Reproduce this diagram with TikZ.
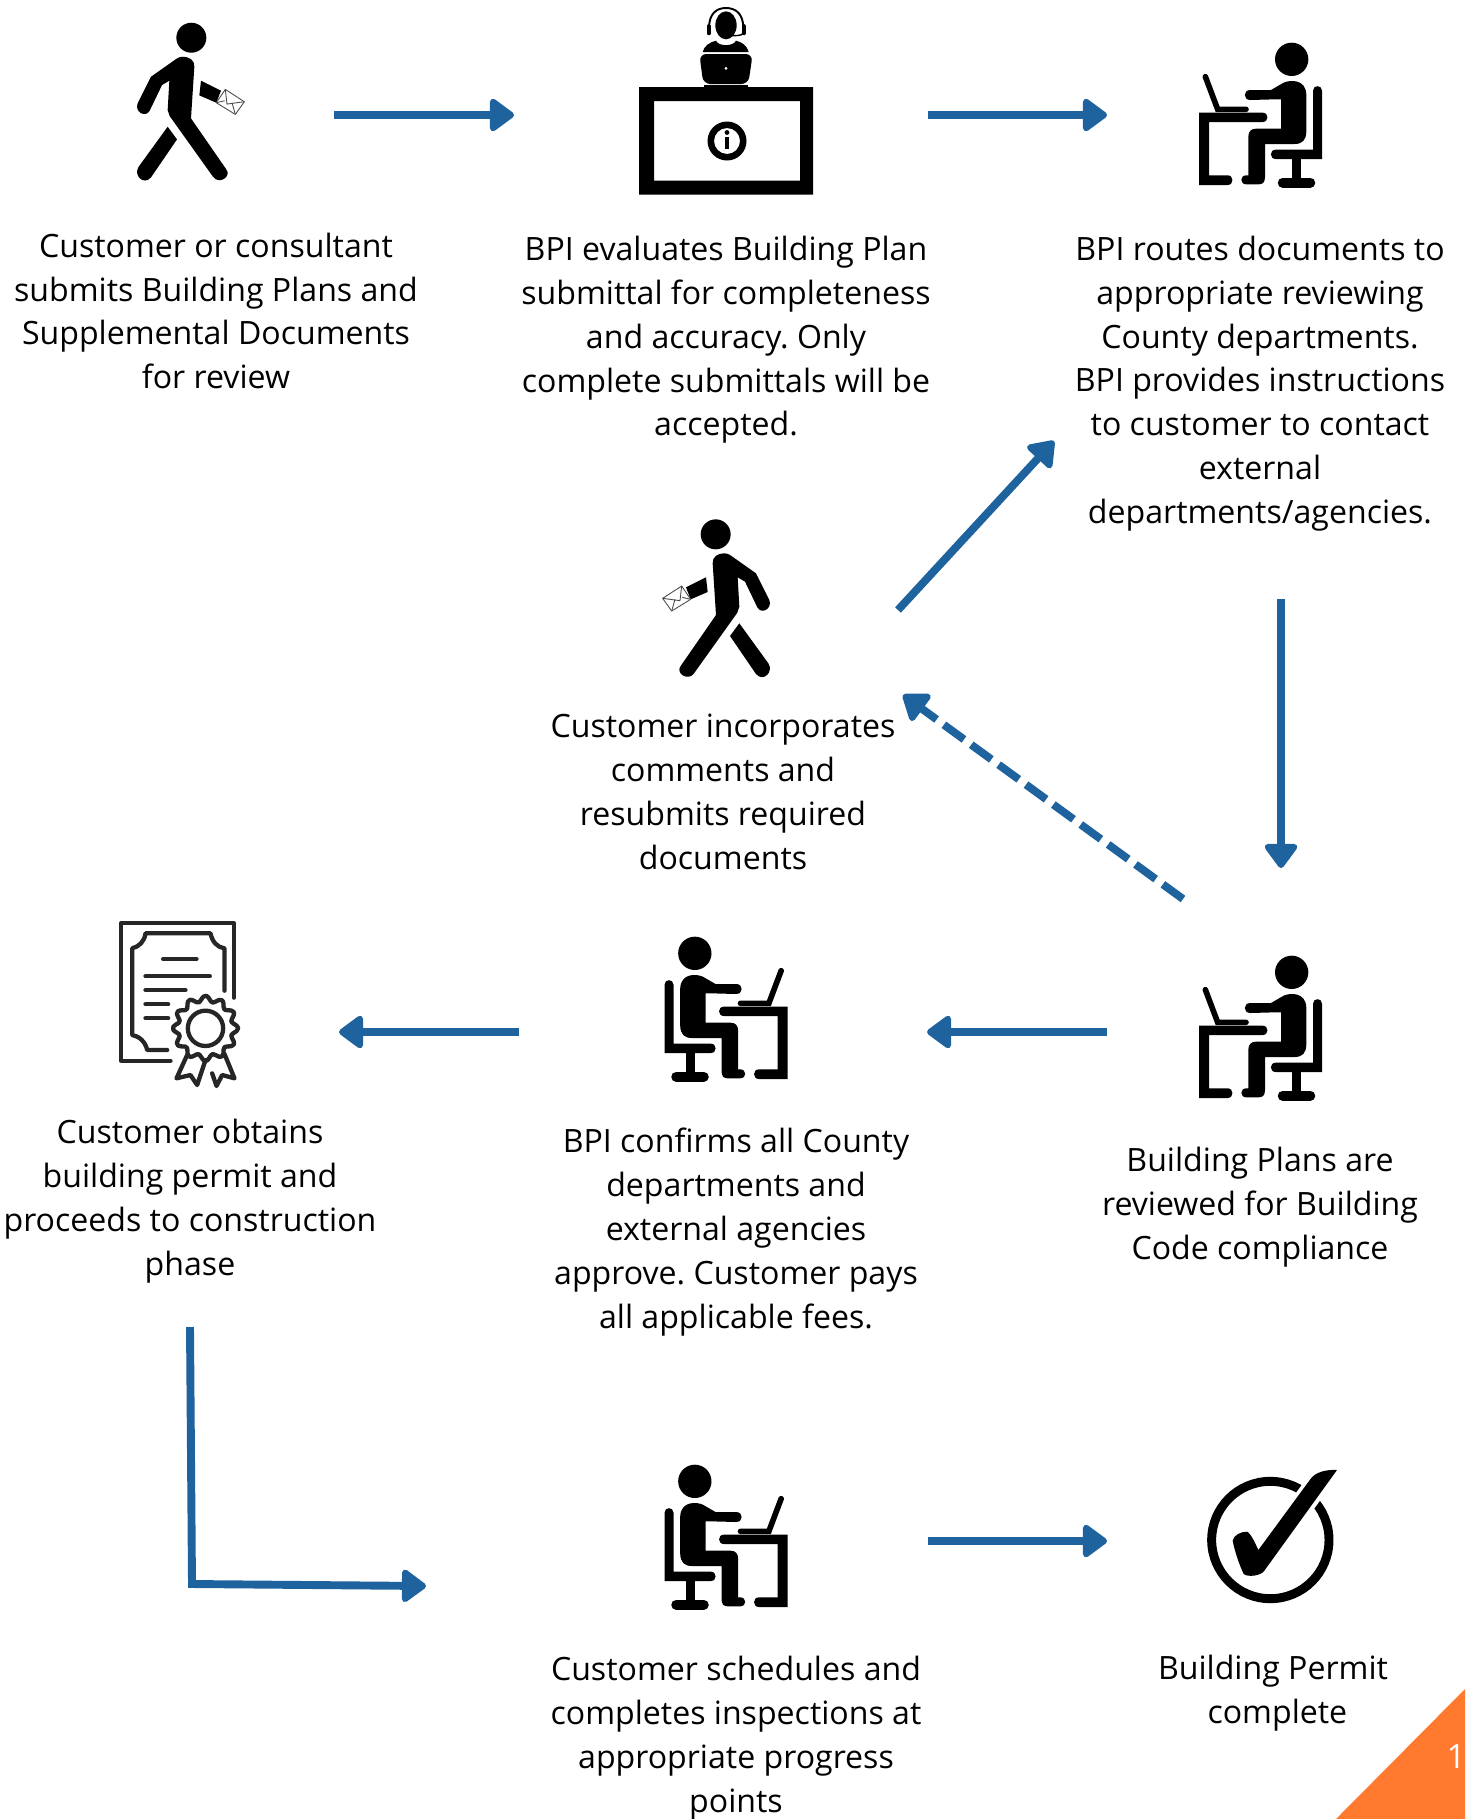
\documentclass[tikz,border=0pt]{standalone}
\usepackage{fontspec}
\setmainfont{Open Sans}
\usetikzlibrary{arrows.meta}
\definecolor{flowblue}{HTML}{1F639E}
\definecolor{cornerorange}{HTML}{FF7A2F}
\definecolor{certgray}{HTML}{262626}
\tikzset{
	steptext/.style={align=center, inner sep=0pt, font=\fontsize{18.27}{24.94}\selectfont},
	flow/.style={draw=flowblue, line width=4.5pt, -{Triangle[length=15pt,width=21pt,round,line width=3.5pt]}},
	worker/.pic={
		\begin{scope}[scale=1/3]
			\fill (362,118) circle[radius=50];
			\draw[line width=3.2pt, line cap=round] (103,170) -- (140,268) -- (225,268);
			\fill (84,278) -- (275,278) .. controls (294,278) and (294,306) .. (275,306) -- (114,306) -- (114,466) -- (170,466) .. controls (189,466) and (189,495) .. (170,495) -- (84,495) -- cycle;
			\fill (238,210) -- (300,210) -- (338,188) .. controls (355,180) and (405,175) .. (406,225) -- (406,335) .. controls (405,360) and (395,372) .. (370,372) -- (282,372) -- (282,470) .. controls (282,488) and (275,493) .. (262,493) -- (226,493) .. controls (206,493) and (206,466) .. (226,466) -- (232,466) -- (232,350) .. controls (232,335) and (240,326) .. (255,326) -- (330,326) -- (330,238) -- (312,238) -- (238,240) .. controls (216,240) and (216,210) .. (238,210) -- cycle;
			\fill (426,212) .. controls (426,194) and (453,194) .. (453,212) -- (453,417) -- (314,417) .. controls (295,417) and (295,389) .. (314,389) -- (426,389) -- cycle;
			\fill (362,410) rectangle (390,480);
			\draw[line width=5.6pt, line cap=round] (335,488) -- (418,488);
		\end{scope}
	},
	walker/.pic={
		\begin{scope}[scale=1/3]
			\fill (197,103) circle[radius=45];
			\fill (188,190) .. controls (186,170) and (205,160) .. (222,160) .. controls (235,160) and (240,165) .. (250,172) -- (318,220) -- (358,300) .. controls (368,325) and (335,345) .. (322,322) -- (285,245) -- (263,232) -- (268,320) -- (262,338) -- (132,520) .. controls (115,545) and (75,520) .. (92,498) -- (198,345) -- cycle;
			\fill (268,370) -- (355,490) .. controls (372,515) and (340,548) .. (318,522) -- (240,408) -- cycle;
			\fill (108,262) -- (168,232) -- (173,276) -- (122,298) -- cycle;
			\draw[fill=white, draw=black!70, line width=0.5pt, line join=round] (38,295) -- (95,258) -- (122,298) -- (65,333) -- cycle;
			\draw[draw=black!70, line width=0.5pt] (38,295) -- (90,302) -- (95,258) (65,333) -- (75,298) (122,298) -- (97,292);
		\end{scope}
	},
	agent/.pic={
		\begin{scope}[scale=1/3]
			\fill (138,76) ellipse[x radius=32, y radius=42];
			\draw[line width=1.1pt] (87,85) .. controls (87,40) and (110,24) .. (138,24) .. controls (166,24) and (190,40) .. (190,85);
			\draw[line width=2.2pt, line cap=round] (86,78) -- (86,100) (191,78) -- (191,100);
			\draw[line width=0.8pt] (189,100) .. controls (185,108) and (170,106) .. (146,108);
			\fill (142,108) circle[radius=6];
			\fill (68,156) .. controls (72,138) and (90,126) .. (108,122) .. controls (115,140) and (160,140) .. (168,122) .. controls (186,126) and (202,138) .. (206,156) -- cycle;
			\fill[rounded corners=4pt] (58,162) -- (218,162) -- (205,252) -- (70,252) -- cycle;
			\fill[white] (138,205) circle[radius=4.5];
			\fill (72,254) rectangle (205,262);
		\end{scope}
	},
	infodesk/.pic={
		\fill[even odd rule] (640,85) rectangle (814,192.5) (655,99) rectangle (801,178.5);
		\fill[even odd rule] (728,139) circle[radius=19.5] (728,139) circle[radius=13];
		\fill (728,130.5) circle[radius=2.4];
		\fill (726,135) rectangle (730,147);
	},
	permit/.pic={
		\begin{scope}[scale=1/3, draw=certgray, line width=2.45pt, line cap=round, line join=round]
			\draw (240,482) -- (92,482) -- (92,70) -- (430,70) -- (430,293);
			\draw (230,450) -- (170,450) .. controls (165,425) and (145,408) .. (125,405) -- (125,145) .. controls (145,140) and (162,125) .. (165,100) -- (360,100) .. controls (365,125) and (380,142) .. (402,145) -- (402,272);
			\draw (218,177) -- (318,177) (165,229) -- (358,229) (165,270) -- (285,270) (165,313) -- (233,313) (165,355) -- (233,355);
			\draw[fill=white] plot[smooth cycle, samples=73, domain=0:355] ({345+(89+9*cos(12*\x))*cos(\x)}, {385+(89+9*cos(12*\x))*sin(\x)});
			\draw (345,385) circle[radius=53];
			\draw (290,465) -- (258,535) -- (300,525) -- (320,555) -- (345,480);
			\draw (402,462) -- (432,535) -- (395,525) -- (378,558) -- (365,520);
		\end{scope}
	},
	donemark/.pic={
		\begin{scope}[scale=1/3]
			\draw[line width=5.1pt] (268,270) circle[radius=176];
			\draw[white, line width=4pt] (232,300) -- (390,85) (250,362) -- (420,130);
			\fill (155,272) .. controls (158,255) and (180,245) .. (198,245) .. controls (210,250) and (225,285) .. (232,300) -- (390,85) .. controls (405,65) and (440,58) .. (468,60) -- (250,362) .. controls (240,378) and (200,382) .. (188,372) .. controls (175,345) and (160,300) .. (155,272) -- cycle;
		\end{scope}
	}
}
\frenchspacing
\begin{document}
\begin{tikzpicture}[x=0.02cm, y=-0.02cm]
	\useasboundingbox (0,0) rectangle (1465,1819);

	% icons
	\pic[xscale=-1] (walkerfirst) at (257,3.4) {walker};
	\pic (agentdesk) at (680,0) {agent};
	\pic (infobox) at (-1,2) {infodesk};
	\pic (workerroute) at (1171,20) {worker};
	\pic (walkerback) at (650,500) {walker};
	\pic (workerreview) at (1171,933) {worker};
	\pic[xscale=-1] (workerconfirm) at (815.5,914) {worker};
	\pic (certificate) at (90.5,900) {permit};
	\pic[xscale=-1] (workerinspect) at (815.5,1442) {worker};
	\pic (checkdone) at (1181,1450) {donemark};

	% texts
	\node[steptext] at (216,311) (submit) {Customer or consultant\\submits Building Plans and\\Supplemental Documents\\for review};
	\node[steptext] at (726,340) (evaluate) {BPI evaluates Building Plan\\submittal for completeness\\and accuracy. Only\\complete submittals will be\\accepted.};
	\node[steptext] at (1260,383.5) (route) {BPI routes documents to\\appropriate reviewing\\County departments.\\BPI provides instructions\\to customer to contact\\external\\departments/agencies.\hspace{4pt}};
	\node[steptext] at (723,792) (resubmit) {Customer incorporates\\comments and\\resubmits required\\documents};
	\node[steptext] at (190,1201) (obtain) {Customer obtains\\building permit and\\proceeds to construction\\phase};
	\node[steptext] at (736,1232) (confirm) {BPI confirms all County\\departments and\\external agencies\\approve. Customer pays\\all applicable fees.};
	\node[steptext] at (1260,1207) (review) {Building Plans are\\reviewed for Building\\Code compliance};
	\node[steptext] at (736,1738) (inspect) {Customer schedules and\\completes inspections at\\appropriate progress\\points};
	\node[steptext] at (1273,1693) (complete) {Building Permit\\\hspace{5pt}complete};

	% arrow ends
	\coordinate (submitout) at (334,115);
	\coordinate (evaluatein) at (514,115);
	\coordinate (evaluateout) at (928,115);
	\coordinate (routein) at (1107,115);
	\coordinate (resubmitout) at (898,610);
	\coordinate (routeback) at (1054,441);
	\coordinate (routeout) at (1281,599);
	\coordinate (reviewin) at (1281,868);
	\coordinate (reviewback) at (1183,899);
	\coordinate (resubmitin) at (903,695);
	\coordinate (reviewout) at (1107,1032);
	\coordinate (confirmin) at (927,1032);
	\coordinate (confirmout) at (519,1032);
	\coordinate (obtainin) at (339,1032);
	\coordinate (obtainout) at (190,1327);
	\coordinate (bendcorner) at (192,1584);
	\coordinate (inspectin) at (426,1586);
	\coordinate (inspectout) at (928,1541);
	\coordinate (completein) at (1107,1541);

	\draw[flow] (submitout) -- (evaluatein);
	\draw[flow] (evaluateout) -- (routein);
	\draw[flow] (resubmitout) -- (routeback);
	\draw[flow] (routeout) -- (reviewin);
	\draw[flow, dash pattern=on 25*0.567pt off 9*0.567pt] (reviewback) -- (resubmitin);
	\draw[flow] (reviewout) -- (confirmin);
	\draw[flow] (confirmout) -- (obtainin);
	\draw[flow] (obtainout) -- (bendcorner) -- (inspectin);
	\draw[flow] (inspectout) -- (completein);

	% corner
	\fill[cornerorange] (1465,1689) -- (1465,1819) -- (1336,1819) -- cycle;
	\node[anchor=base east, inner sep=0pt, text=white, font=\fontsize{19}{24}\selectfont] at (1466,1768) (pagenum) {1};
\end{tikzpicture}
\end{document}
